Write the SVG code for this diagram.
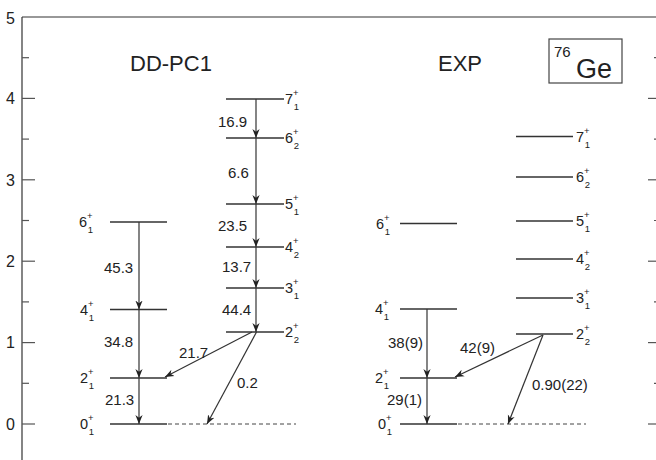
<svg xmlns="http://www.w3.org/2000/svg" width="656" height="460" viewBox="0 0 656 460">
<style>
text{font-family:"Liberation Sans",Arial,sans-serif;fill:#222}
.ax{font-size:16px}
.num{font-size:15px}
.lab{font-size:14.5px}
.sm{font-size:9.5px}
.title{font-size:22px}
.lvl{stroke:#333;stroke-width:1.5;fill:none}
.dash{stroke:#444;stroke-width:1;stroke-dasharray:4,3;fill:none}
.arr{stroke:#333;stroke-width:1.2;fill:none;marker-end:url(#ah)}
.tk{stroke:#555;stroke-width:1.2}
</style>
<defs>
<marker id="ah" viewBox="0 0 10 10" refX="10" refY="5" markerWidth="9" markerHeight="9" markerUnits="userSpaceOnUse" orient="auto">
<path d="M0,1 L10,5 L0,9 L3,5 z" fill="#222"/>
</marker>
</defs>
<g id="axes">
<line x1="22" y1="17" x2="656" y2="17" stroke="#333" stroke-width="1.2"/>
<line x1="22" y1="17" x2="22" y2="460" stroke="#333" stroke-width="1.2"/>
<g class="tk">
<line x1="22" y1="98.4" x2="35" y2="98.4"/><line x1="22" y1="179.8" x2="35" y2="179.8"/><line x1="22" y1="261.2" x2="35" y2="261.2"/><line x1="22" y1="342.6" x2="35" y2="342.6"/><line x1="22" y1="424" x2="35" y2="424"/>
<line x1="22" y1="57.7" x2="29" y2="57.7"/><line x1="22" y1="139.1" x2="29" y2="139.1"/><line x1="22" y1="220.5" x2="29" y2="220.5"/><line x1="22" y1="301.9" x2="29" y2="301.9"/><line x1="22" y1="383.3" x2="29" y2="383.3"/>
<line x1="648" y1="98.4" x2="656" y2="98.4"/><line x1="648" y1="179.8" x2="656" y2="179.8"/><line x1="648" y1="261.2" x2="656" y2="261.2"/><line x1="648" y1="342.6" x2="656" y2="342.6"/><line x1="648" y1="424" x2="656" y2="424"/>
<line x1="654" y1="57.7" x2="656" y2="57.7"/><line x1="654" y1="139.1" x2="656" y2="139.1"/><line x1="654" y1="220.5" x2="656" y2="220.5"/><line x1="654" y1="301.9" x2="656" y2="301.9"/><line x1="654" y1="383.3" x2="656" y2="383.3"/>
</g>
<text class="ax" x="6" y="24">5</text>
<text class="ax" x="6" y="104">4</text>
<text class="ax" x="6" y="186">3</text>
<text class="ax" x="6" y="267">2</text>
<text class="ax" x="6" y="348">1</text>
<text class="ax" x="6" y="430">0</text>
</g>
<g id="titles">
<text class="title" x="130" y="71">DD-PC1</text>
<text class="title" x="438" y="71">EXP</text>
<rect x="549" y="39" width="73" height="44" fill="none" stroke="#444" stroke-width="1.2"/>
<text x="554" y="57" style="font-size:15px">76</text>
<text x="576" y="78" style="font-size:27px">Ge</text>
</g>
<g id="dd-levels">
<line class="lvl" x1="110" y1="222" x2="167" y2="222"/>
<line class="lvl" x1="110" y1="309.5" x2="167" y2="309.5"/>
<line class="lvl" x1="110" y1="378" x2="167" y2="378"/>
<line class="lvl" x1="110" y1="424" x2="167" y2="424"/>
<line class="dash" x1="168" y1="424" x2="296" y2="424"/>
<line class="lvl" x1="226" y1="99" x2="284" y2="99"/>
<line class="lvl" x1="226" y1="138" x2="284" y2="138"/>
<line class="lvl" x1="226" y1="204" x2="284" y2="204"/>
<line class="lvl" x1="226" y1="247" x2="284" y2="247"/>
<line class="lvl" x1="226" y1="288" x2="284" y2="288"/>
<line class="lvl" x1="226" y1="332" x2="284" y2="332"/>
<text class="lab" x="79" y="227">6<tspan class="sm" dy="-8">+</tspan><tspan class="sm" dx="-5" dy="14">1</tspan></text>
<text class="lab" x="80" y="315">4<tspan class="sm" dy="-8">+</tspan><tspan class="sm" dx="-5" dy="14">1</tspan></text>
<text class="lab" x="80" y="383">2<tspan class="sm" dy="-8">+</tspan><tspan class="sm" dx="-5" dy="14">1</tspan></text>
<text class="lab" x="80" y="429">0<tspan class="sm" dy="-8">+</tspan><tspan class="sm" dx="-5" dy="14">1</tspan></text>
<text class="lab" x="285" y="104">7<tspan class="sm" dy="-8">+</tspan><tspan class="sm" dx="-5" dy="14">1</tspan></text>
<text class="lab" x="285" y="143">6<tspan class="sm" dy="-8">+</tspan><tspan class="sm" dx="-5" dy="14">2</tspan></text>
<text class="lab" x="285" y="209">5<tspan class="sm" dy="-8">+</tspan><tspan class="sm" dx="-5" dy="14">1</tspan></text>
<text class="lab" x="285" y="252">4<tspan class="sm" dy="-8">+</tspan><tspan class="sm" dx="-5" dy="14">2</tspan></text>
<text class="lab" x="285" y="293">3<tspan class="sm" dy="-8">+</tspan><tspan class="sm" dx="-5" dy="14">1</tspan></text>
<text class="lab" x="285" y="337">2<tspan class="sm" dy="-8">+</tspan><tspan class="sm" dx="-5" dy="14">2</tspan></text>
</g>
<g id="exp-levels">
<line class="lvl" x1="400" y1="223.5" x2="457" y2="223.5"/>
<line class="lvl" x1="400" y1="309" x2="457" y2="309"/>
<line class="lvl" x1="400" y1="378" x2="457" y2="378"/>
<line class="lvl" x1="400" y1="424" x2="457" y2="424"/>
<line class="dash" x1="458" y1="424" x2="586" y2="424"/>
<line class="lvl" x1="516" y1="136.5" x2="573" y2="136.5"/>
<line class="lvl" x1="516" y1="177" x2="573" y2="177"/>
<line class="lvl" x1="516" y1="221" x2="573" y2="221"/>
<line class="lvl" x1="516" y1="259" x2="573" y2="259"/>
<line class="lvl" x1="516" y1="298" x2="573" y2="298"/>
<line class="lvl" x1="516" y1="334" x2="573" y2="334"/>
<text class="lab" x="376" y="229">6<tspan class="sm" dy="-8">+</tspan><tspan class="sm" dx="-5" dy="14">1</tspan></text>
<text class="lab" x="375" y="314">4<tspan class="sm" dy="-8">+</tspan><tspan class="sm" dx="-5" dy="14">1</tspan></text>
<text class="lab" x="375" y="383">2<tspan class="sm" dy="-8">+</tspan><tspan class="sm" dx="-5" dy="14">1</tspan></text>
<text class="lab" x="378" y="429">0<tspan class="sm" dy="-8">+</tspan><tspan class="sm" dx="-5" dy="14">1</tspan></text>
<text class="lab" x="576" y="142">7<tspan class="sm" dy="-8">+</tspan><tspan class="sm" dx="-5" dy="14">1</tspan></text>
<text class="lab" x="576" y="182">6<tspan class="sm" dy="-8">+</tspan><tspan class="sm" dx="-5" dy="14">2</tspan></text>
<text class="lab" x="576" y="226">5<tspan class="sm" dy="-8">+</tspan><tspan class="sm" dx="-5" dy="14">1</tspan></text>
<text class="lab" x="576" y="264">4<tspan class="sm" dy="-8">+</tspan><tspan class="sm" dx="-5" dy="14">2</tspan></text>
<text class="lab" x="576" y="303">3<tspan class="sm" dy="-8">+</tspan><tspan class="sm" dx="-5" dy="14">1</tspan></text>
<text class="lab" x="576" y="339">2<tspan class="sm" dy="-8">+</tspan><tspan class="sm" dx="-5" dy="14">2</tspan></text>
</g>
<g id="connectors">
<line class="arr" x1="139" y1="222" x2="139" y2="309.5"/>
<line class="arr" x1="139" y1="309.5" x2="139" y2="378"/>
<line class="arr" x1="139" y1="378" x2="139" y2="424"/>
<line class="arr" x1="256" y1="99" x2="256" y2="138"/>
<line class="arr" x1="256" y1="138" x2="256" y2="204"/>
<line class="arr" x1="256" y1="204" x2="256" y2="247"/>
<line class="arr" x1="256" y1="247" x2="256" y2="288"/>
<line class="arr" x1="256" y1="288" x2="256" y2="332"/>
<line class="arr" x1="252" y1="332" x2="165" y2="377"/>
<line class="arr" x1="256.5" y1="332" x2="207" y2="424"/>
<line class="arr" x1="427" y1="309" x2="427" y2="378"/>
<line class="arr" x1="427" y1="378" x2="427" y2="424"/>
<line class="arr" x1="543" y1="335" x2="455" y2="377"/>
<line class="arr" x1="543" y1="335" x2="508" y2="424"/>
</g>
<g id="values">
<text class="num" x="104" y="273">45.3</text>
<text class="num" x="104" y="347">34.8</text>
<text class="num" x="105" y="405">21.3</text>
<text class="num" x="218" y="127">16.9</text>
<text class="num" x="228" y="178">6.6</text>
<text class="num" x="218" y="231">23.5</text>
<text class="num" x="222" y="272">13.7</text>
<text class="num" x="222" y="315">44.4</text>
<text class="num" x="179" y="358">21.7</text>
<text class="num" x="237" y="388">0.2</text>
<text class="num" x="388" y="348">38(9)</text>
<text class="num" x="460" y="353">42(9)</text>
<text class="num" x="387" y="405">29(1)</text>
<text class="num" x="532" y="390">0.90(22)</text>
</g>
</svg>
